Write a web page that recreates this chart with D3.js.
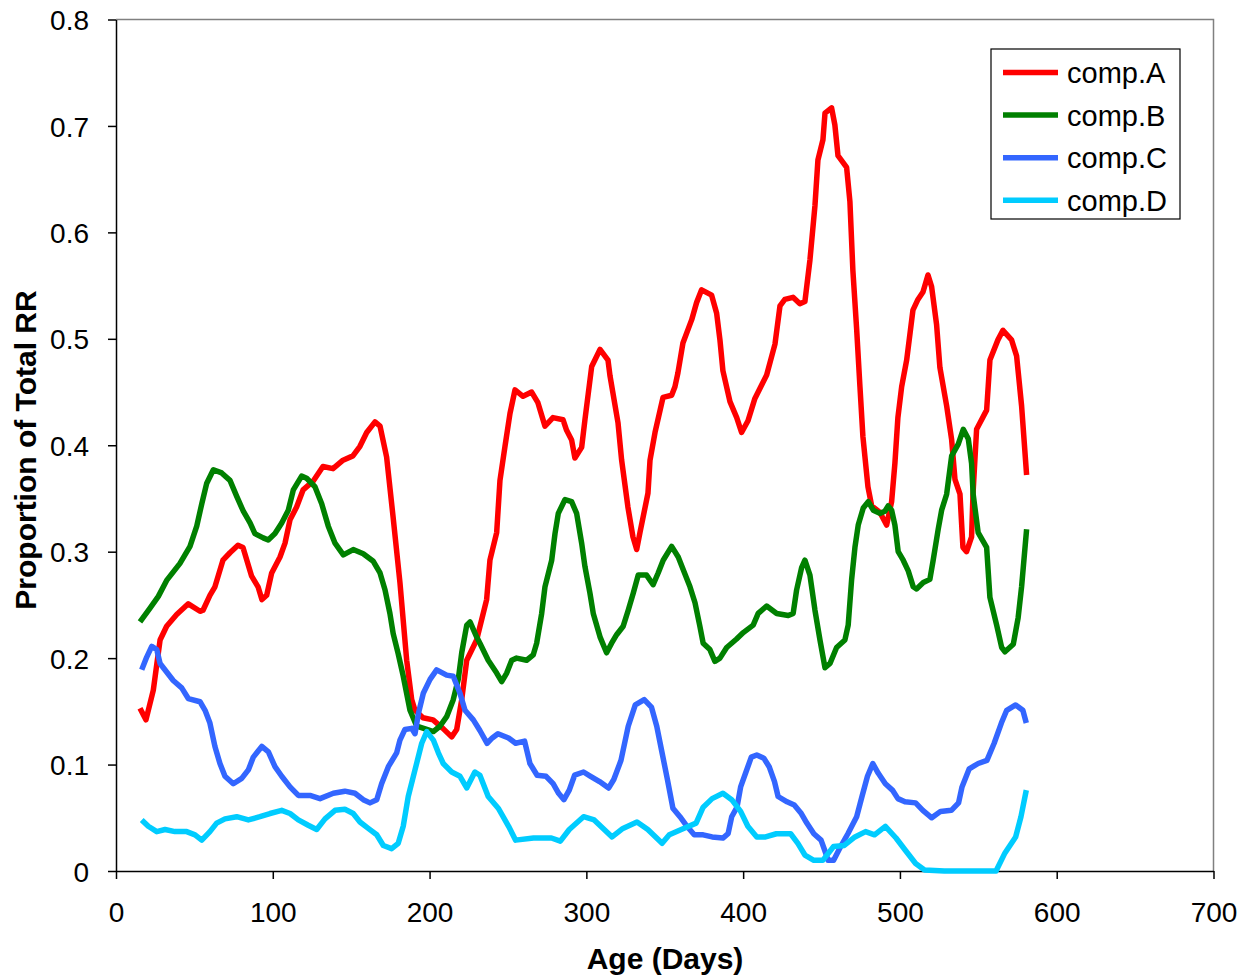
<!DOCTYPE html>
<html>
<head>
<meta charset="utf-8">
<script src="https://cdn.jsdelivr.net/npm/d3@7"></script>
<style>
  html, body { margin: 0; padding: 0; background: #fff; }
  svg { display: block; font-family: "Liberation Sans", Arial, sans-serif; }
</style>
</head>
<body>
<svg id="chart" width="1242" height="978"></svg>
<script>
// Proportion of total RR by component vs age (days)

// Data: [age in days, proportion]
const compA = [
  [15.3,0.153],[19.1,0.142],[23.8,0.170],[28.1,0.217],[32.3,0.230],[38.7,0.241],[46.1,0.251],
  [53.6,0.244],[55.5,0.245],[59.9,0.259],[63.1,0.267],[68.2,0.292],[72.7,0.299],[77.8,0.306],
  [81.0,0.304],[86.5,0.277],[90.6,0.267],[93.1,0.255],[96.1,0.259],[99.3,0.280],[104.6,0.295],
  [107.8,0.308],[111.0,0.330],[115.2,0.342],[119.3,0.358],[125.6,0.366],[132.0,0.380],[138.4,0.378],
  [144.8,0.386],[151.1,0.390],[155.6,0.399],[159.9,0.412],[165.2,0.422],[168.4,0.418],[172.6,0.389],
  [176.7,0.333],[181.1,0.271],[185.4,0.198],[188.6,0.161],[190.7,0.151],[195.8,0.144],[202.2,0.142],
  [208.5,0.134],[214.1,0.126],[217.3,0.133],[220.5,0.161],[223.7,0.198],[230.0,0.217],[236.4,0.255],
  [238.5,0.292],[242.8,0.318],[244.9,0.367],[248.1,0.399],[251.3,0.430],[254.5,0.452],[259.6,0.446],
  [265.1,0.450],[269.1,0.440],[273.6,0.418],[278.7,0.426],[285.1,0.424],[287.4,0.414],[290.6,0.405],
  [292.7,0.388],[297.0,0.398],[299.1,0.424],[303.4,0.474],[308.7,0.490],[313.8,0.480],[315.1,0.465],
  [320.2,0.421],[322.5,0.386],[326.5,0.342],[329.7,0.314],[332.1,0.302],[334.2,0.318],[339.3,0.355],
  [340.6,0.386],[343.8,0.412],[348.9,0.445],[354.4,0.447],[356.5,0.455],[358.4,0.468],[361.6,0.496],
  [367.2,0.518],[370.3,0.534],[373.5,0.546],[379.9,0.541],[383.1,0.524],[385.2,0.499],[387.1,0.470],
  [391.6,0.441],[395.9,0.426],[399.0,0.412],[403.1,0.423],[407.5,0.444],[412.6,0.459],[415.0,0.466],
  [420.3,0.495],[423.5,0.531],[426.6,0.537],[431.8,0.539],[436.2,0.533],[439.4,0.535],[442.6,0.574],
  [445.8,0.625],[447.7,0.668],[450.9,0.687],[452.2,0.712],[456.4,0.717],[458.5,0.701],[460.5,0.672],
  [466.0,0.661],[468.1,0.629],[470.0,0.564],[472.4,0.509],[474.5,0.455],[476.4,0.408],[479.6,0.361],
  [482.0,0.343],[487.2,0.337],[491.5,0.325],[494.7,0.347],[496.8,0.383],[498.7,0.426],[501.1,0.455],
  [504.3,0.480],[508.3,0.527],[511.5,0.537],[514.7,0.544],[517.9,0.560],[520.2,0.549],[523.4,0.513],
  [525.5,0.473],[529.8,0.437],[533.0,0.405],[535.1,0.368],[538.3,0.354],[540.2,0.304],[542.5,0.300],
  [545.7,0.314],[546.6,0.354],[548.9,0.415],[555.3,0.433],[557.4,0.480],[562.5,0.499],[565.7,0.508],
  [571.2,0.499],[574.4,0.484],[577.6,0.437],[580.8,0.372]
];

const compB = [
  [15.3,0.234],[21.7,0.247],[27.0,0.258],[32.3,0.273],[40.8,0.289],[47.2,0.305],[51.5,0.324],
  [54.7,0.345],[57.8,0.364],[62.1,0.377],[67.4,0.374],[72.7,0.367],[77.0,0.352],[81.2,0.338],
  [85.5,0.327],[88.6,0.317],[93.9,0.313],[97.1,0.311],[101.4,0.317],[105.7,0.327],[109.9,0.339],
  [113.1,0.358],[118.4,0.371],[121.6,0.369],[126.9,0.361],[131.2,0.345],[135.4,0.324],[139.7,0.308],
  [145.0,0.297],[151.3,0.302],[157.7,0.298],[164.1,0.291],[168.4,0.280],[171.6,0.264],[174.7,0.242],
  [176.8,0.223],[180.0,0.204],[183.2,0.183],[187.5,0.151],[191.8,0.136],[198.2,0.133],[202.4,0.131],
  [206.6,0.136],[210.9,0.145],[215.1,0.161],[218.3,0.180],[220.5,0.205],[223.7,0.231],[225.8,0.234],
  [230.0,0.220],[232.1,0.214],[237.4,0.198],[242.8,0.186],[246.0,0.178],[249.2,0.186],[252.4,0.198],
  [255.5,0.200],[261.9,0.198],[266.1,0.203],[268.3,0.214],[271.5,0.242],[273.6,0.267],[277.9,0.292],
  [280.0,0.317],[282.1,0.336],[286.4,0.349],[290.6,0.347],[293.8,0.336],[297.0,0.308],[299.1,0.286],
  [302.3,0.261],[304.4,0.242],[308.7,0.220],[312.9,0.205],[316.1,0.214],[319.3,0.222],[323.5,0.230],
  [326.7,0.245],[329.9,0.261],[333.1,0.278],[338.4,0.278],[342.6,0.269],[345.8,0.280],[349.0,0.292],
  [354.4,0.305],[358.6,0.295],[361.8,0.283],[366.1,0.267],[369.3,0.252],[372.4,0.230],[374.5,0.214],
  [378.8,0.208],[382.0,0.197],[385.2,0.200],[389.5,0.210],[395.8,0.218],[400.1,0.224],[406.4,0.231],
  [409.6,0.242],[415.0,0.249],[421.4,0.242],[428.8,0.240],[431.9,0.242],[434.1,0.264],[437.3,0.285],
  [439.4,0.292],[442.6,0.278],[445.8,0.245],[449.0,0.217],[452.2,0.191],[455.4,0.195],[459.6,0.210],
  [464.9,0.217],[467.0,0.231],[469.2,0.274],[471.3,0.304],[473.4,0.325],[476.6,0.341],[479.8,0.347],
  [483.0,0.339],[487.2,0.336],[490.4,0.338],[492.5,0.343],[494.7,0.339],[496.8,0.325],[498.9,0.300],
  [502.1,0.292],[505.3,0.282],[508.5,0.267],[510.6,0.265],[514.9,0.271],[519.1,0.274],[521.2,0.292],
  [524.4,0.321],[526.6,0.339],[529.8,0.354],[533.0,0.390],[537.2,0.401],[540.4,0.415],[543.6,0.406],
  [545.7,0.383],[546.7,0.354],[549.9,0.318],[555.3,0.304],[557.4,0.257],[561.7,0.231],[564.9,0.210],
  [567.0,0.206],[572.3,0.213],[575.4,0.238],[577.6,0.267],[580.8,0.321]
];

const compC = [
  [16.4,0.189],[19.6,0.201],[22.8,0.211],[26.0,0.208],[28.1,0.195],[32.3,0.187],[36.5,0.179],
  [41.9,0.172],[46.1,0.162],[53.6,0.159],[56.8,0.151],[59.9,0.139],[63.1,0.117],[66.3,0.101],
  [69.5,0.089],[74.8,0.082],[80.2,0.087],[84.4,0.095],[87.6,0.107],[93.0,0.117],[97.2,0.112],
  [101.4,0.098],[105.7,0.089],[111.0,0.079],[116.3,0.071],[123.7,0.071],[130.1,0.068],[138.6,0.073],
  [146.0,0.075],[152.4,0.073],[157.7,0.067],[162.0,0.064],[166.3,0.067],[169.4,0.082],[173.7,0.098],
  [179.0,0.111],[181.1,0.123],[184.3,0.133],[188.6,0.134],[190.7,0.129],[192.9,0.148],[196.0,0.167],
  [200.3,0.180],[204.5,0.189],[210.9,0.184],[215.1,0.183],[219.4,0.167],[222.6,0.151],[227.9,0.142],
  [232.1,0.132],[236.7,0.120],[240.0,0.125],[243.6,0.129],[250.4,0.125],[254.9,0.120],[260.6,0.122],
  [264.0,0.101],[268.6,0.090],[274.3,0.089],[278.8,0.082],[282.3,0.073],[285.7,0.067],[289.1,0.076],
  [292.5,0.090],[298.2,0.093],[302.7,0.089],[308.4,0.084],[314.2,0.078],[317.5,0.086],[322.1,0.104],
  [326.7,0.136],[331.2,0.156],[336.9,0.161],[341.5,0.154],[344.9,0.136],[348.3,0.111],[351.7,0.086],
  [355.2,0.059],[359.7,0.051],[364.2,0.042],[368.8,0.034],[374.5,0.034],[380.2,0.032],[387.1,0.031],
  [390.4,0.035],[392.7,0.051],[396.1,0.060],[398.4,0.079],[401.8,0.093],[405.2,0.107],[408.7,0.109],
  [413.2,0.106],[416.6,0.098],[420.0,0.084],[422.3,0.070],[428.0,0.065],[432.6,0.062],[437.1,0.054],
  [440.6,0.045],[445.1,0.035],[449.7,0.029],[451.9,0.020],[454.2,0.010],[457.7,0.010],[462.2,0.023],
  [466.8,0.035],[472.4,0.051],[475.8,0.070],[479.3,0.089],[482.7,0.101],[486.1,0.092],[490.7,0.082],
  [495.2,0.076],[498.7,0.068],[503.2,0.065],[510.0,0.064],[514.6,0.057],[520.3,0.050],[525.9,0.056],
  [532.8,0.057],[537.4,0.064],[539.6,0.079],[544.2,0.096],[549.9,0.101],[555.5,0.104],[560.1,0.120],
  [564.7,0.139],[568.1,0.151],[573.8,0.156],[578.4,0.151],[580.6,0.139]
];

const compD = [
  [16.4,0.048],[20.6,0.042],[26.0,0.037],[31.3,0.039],[37.6,0.037],[45.1,0.037],[50.4,0.034],
  [54.7,0.029],[59.9,0.037],[64.2,0.045],[69.5,0.049],[77.0,0.051],[84.4,0.048],[91.8,0.051],
  [98.2,0.054],[105.7,0.057],[111.0,0.054],[116.3,0.048],[122.6,0.043],[128.0,0.039],[133.3,0.049],
  [139.7,0.057],[146.0,0.058],[151.3,0.054],[155.6,0.046],[160.9,0.040],[166.3,0.034],[170.5,0.024],
  [175.8,0.021],[180.0,0.026],[183.2,0.042],[186.4,0.070],[190.7,0.095],[195.0,0.120],[198.2,0.131],
  [202.4,0.123],[205.6,0.111],[208.7,0.101],[214.1,0.093],[219.4,0.089],[223.7,0.078],[228.9,0.093],
  [232.1,0.090],[237.4,0.070],[243.8,0.059],[245.8,0.054],[250.4,0.042],[254.9,0.029],[266.3,0.031],
  [277.7,0.031],[283.4,0.028],[289.1,0.039],[298.2,0.051],[305.0,0.048],[310.7,0.040],[316.4,0.032],
  [323.3,0.040],[332.3,0.046],[339.2,0.039],[348.3,0.026],[352.9,0.034],[362.0,0.040],[370.0,0.045],
  [374.5,0.060],[380.2,0.068],[387.1,0.073],[392.7,0.067],[398.4,0.056],[403.0,0.042],[408.7,0.032],
  [414.3,0.032],[421.2,0.035],[430.3,0.035],[434.9,0.026],[439.4,0.015],[445.1,0.010],[450.8,0.010],
  [457.7,0.023],[464.5,0.024],[471.3,0.032],[478.1,0.037],[483.8,0.034],[490.7,0.042],[497.5,0.031],
  [503.2,0.020],[510.0,0.007],[515.7,0.001],[528.3,0.0],[561.3,0.0],[567.0,0.017],[573.8,0.032],
  [577.2,0.051],[580.6,0.076]
];

const seriesNames = ["comp.A", "comp.B", "comp.C", "comp.D"];
const seriesColors = ["#ff0000", "#008000", "#3366ff", "#00ccff"];
const seriesData = [compA, compB, compC, compD];

const xTicks = [0, 100, 200, 300, 400, 500, 600, 700];
const yTicks = [0, 0.1, 0.2, 0.3, 0.4, 0.5, 0.6, 0.7, 0.8];

// Layout
const svg = d3.select("#chart");
const margin = { top: 19.5, right: 28.5, bottom: 107, left: 116 };
const width = 1242;
const height = 978;
const innerWidth = width - margin.left - margin.right;
const innerHeight = height - margin.top - margin.bottom;

const g = svg.append("g").attr("transform", `translate(${margin.left},${margin.top})`);

const x = d3.scaleLinear().domain([0, 700]).range([0, innerWidth]);
const y = d3.scaleLinear().domain([0, 0.8]).range([innerHeight, 0]);

// plot frame (top + right in grey)
g.append("path")
  .attr("d", `M0,0H${innerWidth}V${innerHeight}`)
  .attr("fill", "none")
  .attr("stroke", "#808080")
  .attr("stroke-width", 1.5);

// Axes
const xAxis = d3.axisBottom(x).tickValues(xTicks).tickSize(8).tickSizeOuter(0).tickPadding(23);
const yAxis = d3.axisLeft(y).tickValues(yTicks).tickSize(8).tickSizeOuter(0).tickPadding(19)
  .tickFormat(d3.format("~g"));

const xAxisG = g.append("g").attr("transform", `translate(0,${innerHeight})`).call(xAxis);
const yAxisG = g.append("g").call(yAxis);

[xAxisG, yAxisG].forEach((ax) => {
  ax.select(".domain").attr("stroke", "#000").attr("stroke-width", 1.5);
  ax.selectAll(".tick line").attr("stroke", "#000").attr("stroke-width", 1.5);
  ax.selectAll("text")
    .attr("fill", "#000")
    .attr("font-size", 28)
    .attr("font-family", "'Liberation Sans', Arial, sans-serif");
});
yAxisG.selectAll("text").attr("dy", "0.36em");

// Axis titles
svg.append("text")
  .attr("x", 665)
  .attr("y", 969)
  .attr("text-anchor", "middle")
  .attr("font-size", 30)
  .attr("font-weight", "bold")
  .text("Age (Days)");

svg.append("text")
  .attr("transform", `translate(36,450) rotate(-90)`)
  .attr("text-anchor", "middle")
  .attr("font-size", 30)
  .attr("font-weight", "bold")
  .text("Proportion of Total RR");

// Lines
const line = d3.line()
  .x((d) => x(d[0]))
  .y((d) => y(d[1]))
  .curve(d3.curveLinear);

seriesData.forEach((data, i) => {
  g.append("path")
    .datum(data)
    .attr("fill", "none")
    .attr("stroke", seriesColors[i])
    .attr("stroke-width", 5.5)
    .attr("stroke-linejoin", "round")
    .attr("stroke-linecap", "butt")
    .attr("d", line);
});

// Legend
const legend = svg.append("g").attr("transform", "translate(991,49)");
legend.append("rect")
  .attr("width", 189)
  .attr("height", 170)
  .attr("fill", "#fff")
  .attr("stroke", "#000")
  .attr("stroke-width", 1.2);

seriesNames.forEach((name, i) => {
  const row = legend.append("g").attr("transform", `translate(0,${23.5 + i * 42.6})`);
  row.append("line")
    .attr("x1", 12).attr("x2", 67)
    .attr("stroke", seriesColors[i])
    .attr("stroke-width", 5.5);
  row.append("text")
    .attr("x", 76)
    .attr("dy", "0.36em")
    .attr("font-size", 29)
    .attr("fill", "#000")
    .text(name);
});
</script>
</body>
</html>
